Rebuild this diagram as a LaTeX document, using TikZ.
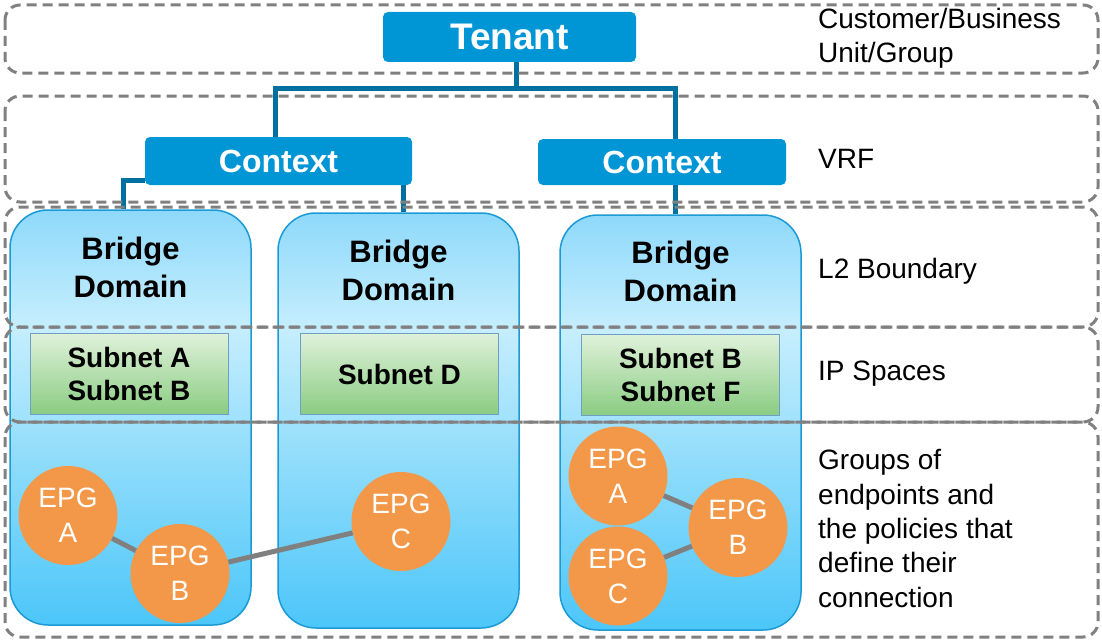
\documentclass[tikz,border=0pt]{standalone}
\usepackage{fontspec}
\setmainfont{Liberation Sans}
\usetikzlibrary{calc}

\definecolor{bandgray}{HTML}{808080}
\definecolor{tenantblue}{HTML}{0096D6}
\definecolor{linkblue}{HTML}{0070A0}
\definecolor{bdtop}{HTML}{8ED9FB}
\definecolor{bdmid}{HTML}{C6EEFD}
\definecolor{bdbot}{HTML}{4CC6F9}
\definecolor{bdedge}{HTML}{1B9AD5}
\definecolor{subtop}{HTML}{DFF1DA}
\definecolor{subbot}{HTML}{8ACC82}
\definecolor{subedge}{HTML}{6F9EC6}
\definecolor{epgorange}{HTML}{F39848}
\definecolor{epgline}{HTML}{808080}

% vertical fills: light band near the top of a bridge domain, green fade for subnets
\pgfdeclareverticalshading{bdshade}{100bp}{color(0bp)=(bdbot); color(25bp)=(bdbot); color(61bp)=(bdmid); color(75bp)=(bdtop); color(100bp)=(bdtop)}
\pgfdeclareverticalshading{subshade}{100bp}{color(0bp)=(subbot); color(25bp)=(subbot); color(75bp)=(subtop); color(100bp)=(subtop)}

\tikzset{
  band/.style={draw=bandgray, line width=3pt, dash pattern=on 10pt off 6pt, rounded corners=15pt},
  bluebox/.style={fill=tenantblue, rounded corners=5pt, text=white, inner sep=0pt},
  conn/.style={draw=linkblue, line width=5pt, line join=miter},
  bdbox/.style={shade, shading=bdshade, draw=bdedge, line width=1.5pt, rounded corners=38pt,
    minimum width=241pt, minimum height=415pt, inner sep=0pt},
  bdtitle/.style={align=center, inner sep=0pt, font=\bfseries\fontsize{31}{38}\selectfont},
  subnet/.style={shade, shading=subshade, draw=subedge, line width=1pt, minimum width=198pt,
    minimum height=81pt, align=center, inner sep=0pt, font=\bfseries\fontsize{28}{33}\selectfont},
  epg/.style={circle, fill=epgorange, minimum size=99pt, inner sep=0pt, text=white, align=center,
    font=\fontsize{28}{35}\selectfont},
  epglink/.style={draw=epgline, line width=5pt},
  legend/.style={anchor=base west, align=left, inner sep=0pt, font=\fontsize{28}{34.3}\selectfont}
}

\begin{document}
\begin{tikzpicture}[x=1pt, y=-1pt]
\useasboundingbox[fill=white] (0,0) rectangle (1102,642);

% bridge domains
\node[bdbox] (bd1) at (130.5,417.5) {};
\node[bdbox] (bd2) at (398.5,420.5) {};
\node[bdbox] (bd3) at (680.5,422.5) {};

\node[bdtitle] (bt1) at (130.5,267) {Bridge\\Domain};
\node[bdtitle] (bt2) at (398.5,270) {Bridge\\Domain};
\node[bdtitle] (bt3) at (680.5,271) {Bridge\\Domain};

% subnets
\node[subnet] (sn1) at (129,374) {Subnet A\\Subnet B};
\node[subnet] (sn2) at (399.5,374) {Subnet D};
\node[subnet] (sn3) at (680.5,375) {Subnet B\\Subnet F};

% endpoint groups and the contracts between them
\node[epg] (ea1) at (68,515.5) {EPG\\A};
\node[epg] (eb1) at (180,573.5) {EPG\\B};
\node[epg] (ec2) at (401,521.5) {EPG\\C};
\node[epg] (ea3) at (618,476) {EPG\\A};
\node[epg] (eb3) at (738,527.5) {EPG\\B};
\node[epg] (ec3) at (618,576) {EPG\\C};
\draw[epglink] (ea1) -- (eb1);
\draw[epglink] (eb1) -- (ec2);
\draw[epglink] (ea3) -- (eb3);
\draw[epglink] (ec3) -- (eb3);

% tenant and contexts
\node[bluebox, minimum width=253pt, minimum height=50pt, font=\bfseries\fontsize{37}{40}\selectfont]
  (tenant) at (509.5,37) {Tenant};
\node[bluebox, minimum width=267pt, minimum height=48pt, font=\bfseries\fontsize{32}{36}\selectfont]
  (ctxL) at (278.5,161) {Context};
\node[bluebox, minimum width=248pt, minimum height=46pt, font=\bfseries\fontsize{32}{36}\selectfont]
  (ctxR) at (662,162) {Context};

% tree connectors
\coordinate (trunk) at (516,88);
\coordinate (legL) at (275,88);
\coordinate (legR) at (675,88);
\coordinate (elbowL) at (123,180);
\coordinate (dropM) at (403,0);
\draw[conn] (tenant.south -| trunk) -- (trunk);
\draw[conn] (legL |- ctxL.north) -- (legL) -- (legR) -- (legR |- ctxR.north);
\draw[conn] (ctxL.west |- elbowL) -- (elbowL) -- (elbowL |- bd1.north);
\draw[conn] (ctxL.south -| dropM) -- (bd2.north -| dropM);
\draw[conn] (ctxR.south -| legR) -- (bd3.north -| legR);

% layer bands
\draw[band] (5,5) rectangle (1098,73);
\draw[band] (5,96) rectangle (1098,202);
\draw[band] (5,207) rectangle (1098,327);
\draw[band] (5,327) rectangle (1098,422);
\draw[band] (5,422) rectangle (1098,637);

% layer descriptions (multi-line nodes sit on the baseline of their last line)
\node[legend] (lbTenant) at (818,63) {Customer/Business\\Unit/Group};
\node[legend] (lbVrf) at (818,168) {VRF};
\node[legend] (lbL2) at (818,278) {L2 Boundary};
\node[legend] (lbIp) at (818,380) {IP Spaces};
\node[legend] (lbEpg) at (818,607) {Groups of\\endpoints and\\the policies that\\define their\\connection};
\end{tikzpicture}
\end{document}
